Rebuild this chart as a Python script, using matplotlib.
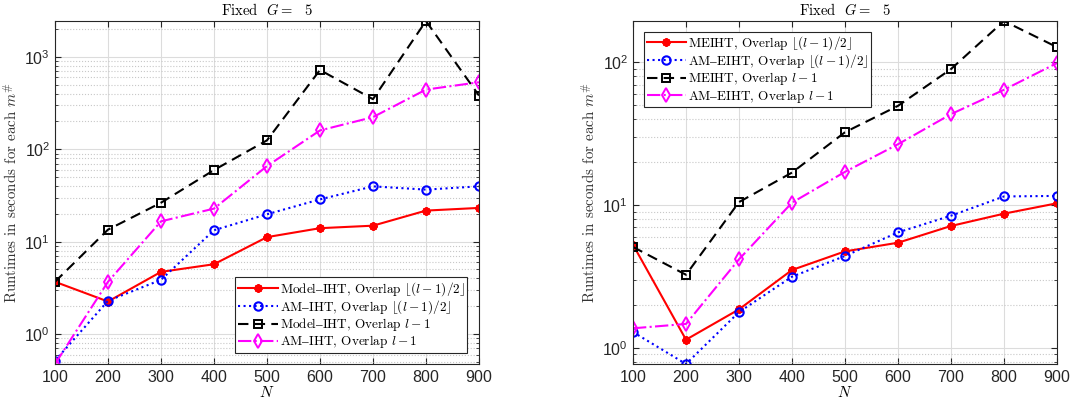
"""Runtime vs N for fixed G = 5: IHT variants (left) and EIHT variants (right)."""

import matplotlib
matplotlib.use("Agg")
import matplotlib.pyplot as plt
import matplotlib.ticker as mticker

plt.rcParams["mathtext.fontset"] = "cm"
plt.rcParams["font.family"] = ["cmr10", "DejaVu Serif"]
plt.rcParams["axes.formatter.use_mathtext"] = True
plt.rcParams["axes.unicode_minus"] = False

# ---------------------------------------------------------------------------
# Data
# ---------------------------------------------------------------------------
N = [100, 200, 300, 400, 500, 600, 700, 800, 900]

# left panel: IHT
model_iht_half = [3.68, 2.25, 4.71, 5.70, 11.2, 14.0, 14.9, 21.7, 23.2]
am_iht_half = [0.515, 2.29, 3.86, 13.3, 19.8, 28.7, 39.7, 36.6, 39.7]
model_iht_full = [3.68, 13.5, 26.4, 59.6, 125, 722, 349, 2447, 382]
am_iht_full = [0.474, 3.68, 16.6, 22.8, 65.8, 160, 223, 443, 532]

# right panel: EIHT
meiht_half = [5.28, 1.14, 1.86, 3.51, 4.74, 5.45, 7.14, 8.71, 10.3]
am_eiht_half = [1.29, 0.77, 1.78, 3.15, 4.40, 6.44, 8.43, 11.5, 11.6]
meiht_full = [5.09, 3.25, 10.5, 16.9, 32.4, 49.6, 89.8, 195, 128]
am_eiht_full = [1.37, 1.47, 4.17, 10.4, 17.1, 26.7, 43.4, 64.3, 98.9]

DASH = "$\\mathrm{\u2013}$"
FLOOR = r"$\lfloor (l-1)/2 \rfloor$"
FULL = r"$l-1$"
left_labels = [f"Model{DASH}IHT, Overlap {FLOOR}", f"AM{DASH}IHT, Overlap {FLOOR}",
               f"Model{DASH}IHT, Overlap {FULL}", f"AM{DASH}IHT, Overlap {FULL}"]
right_labels = [f"MEIHT, Overlap {FLOOR}", f"AM{DASH}EIHT, Overlap {FLOOR}",
                f"MEIHT, Overlap {FULL}", f"AM{DASH}EIHT, Overlap {FULL}"]

STYLES = [
    dict(color="red", linestyle="-", marker=(8, 2, 0), markersize=6, markeredgewidth=1.6),
    dict(color="blue", linestyle=":", marker="o", markersize=6, markerfacecolor="none",
         markeredgewidth=1.5),
    dict(color="black", linestyle=(0, (5, 3)), marker="s", markersize=5.5,
         markerfacecolor="none", markeredgewidth=1.4),
    dict(color="magenta", linestyle="-.", marker="d", markersize=7.5,
         markerfacecolor="none", markeredgewidth=1.4),
]
AXIS_GRAY = "#262626"
TICK_FONT = "Liberation Sans"


def style_axes(ax):
    ax.set_yscale("log")
    ax.set_xlim(100, 900)
    ax.xaxis.set_major_locator(mticker.MultipleLocator(100))
    ax.grid(True, which="major", color="#dcdcdc", linewidth=0.8)
    ax.grid(True, which="minor", axis="y", color="#c8c8c8", linestyle=":", linewidth=0.8)
    ax.set_axisbelow(True)
    ax.tick_params(which="both", direction="in", top=True, right=True, colors=AXIS_GRAY,
                   labelsize=11.5, labelfontfamily=TICK_FONT)
    ax.tick_params(which="major", length=4)
    ax.tick_params(which="minor", length=2)
    for sp in ax.spines.values():
        sp.set_color(AXIS_GRAY)
        sp.set_linewidth(0.8)
    ax.set_title(r"Fixed  $G =$  5", fontsize=10.5, pad=4)
    ax.set_xlabel(r"$N$", fontsize=11, labelpad=0)
    ax.set_ylabel(r"Runtimes in seconds for each $m^{\#}$", fontsize=10.8, labelpad=3,
                  color="#333333")


def panel(ax, series, labels, legend_loc, legend_anchor):
    for ys, lab, st in zip(series, labels, STYLES):
        ax.plot(N, ys, label=lab, linewidth=1.5, **st)
    allv = [v for ys in series for v in ys]
    ax.set_ylim(min(allv), max(allv))
    style_axes(ax)
    leg = ax.legend(loc=legend_loc, bbox_to_anchor=legend_anchor, fontsize=9.5,
                    fancybox=False, framealpha=1, edgecolor="#262626",
                    handlelength=3.0, handletextpad=0.15, borderpad=0.2,
                    labelspacing=0.02, borderaxespad=0)
    leg.get_frame().set_linewidth(0.8)


fig = plt.figure(figsize=(10.91, 4.09), dpi=100)
ax1 = fig.add_axes([0.0504, 0.110, 0.3886, 0.8386])
ax2 = fig.add_axes([0.5802, 0.110, 0.3886, 0.8386])

panel(ax1, [model_iht_half, am_iht_half, model_iht_full, am_iht_full], left_labels,
      "lower right", (0.972, 0.032))
panel(ax2, [meiht_half, am_eiht_half, meiht_full, am_eiht_full], right_labels,
      "upper left", (0.026, 0.969))

fig.savefig("out.png", dpi=100)
